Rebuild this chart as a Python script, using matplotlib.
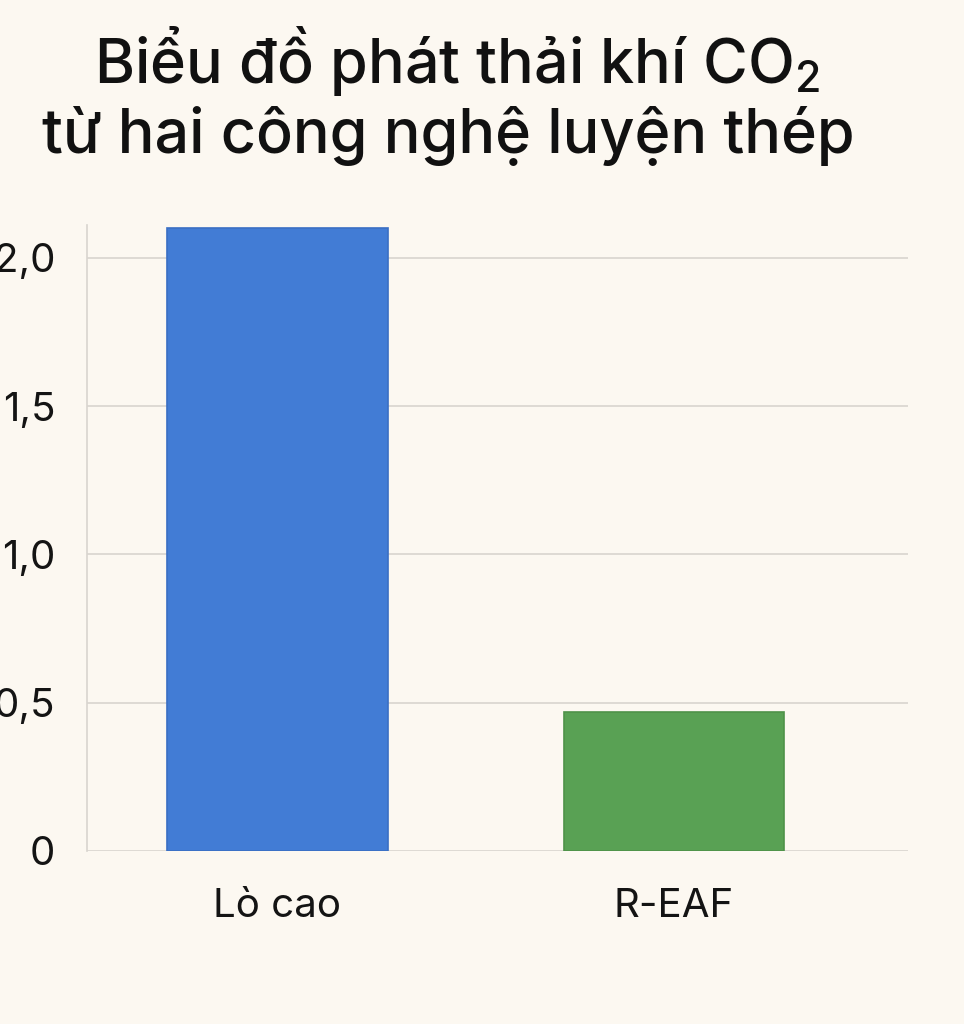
import matplotlib.pyplot as plt

categories = ["Lò cao", "R-EAF"]
emissions = [2.10, 0.47]
bar_colors = ["#427cd5", "#59a154"]
edge_colors = ["#3a6fc4", "#4f9249"]
y_ticks = [0, 0.5, 1.0, 1.5, 2.0]
y_tick_labels = ["0", "0,5", "1,0", "1,5", "2,0"]

bg = "#fcf8f1"
plt.rcParams['font.family'] = ['Inter', 'DejaVu Sans']
plt.rcParams['mathtext.fontset'] = 'custom'
plt.rcParams['mathtext.rm'] = 'Inter:medium'

fig = plt.figure(figsize=(9.64, 10.24), dpi=100, facecolor=bg)
ax = fig.add_axes([0.0903, 0.169, 0.8517, 0.611], facecolor=bg)

x = list(range(len(categories)))
ax.bar(x, emissions, width=0.555, color=bar_colors, edgecolor=edge_colors, linewidth=1.2, zorder=3)

ax.set_xlim(-0.48, 1.59)
ax.set_ylim(0, 2.11)
ax.set_yticks(y_ticks)
ax.set_yticklabels(y_tick_labels)
ax.set_xticks(x)
ax.set_xticklabels(categories)

ax.grid(axis='y', color='#d8d5cf', linewidth=1.2, zorder=0)
for s in ['top', 'right', 'bottom']:
    ax.spines[s].set_visible(False)
ax.spines['left'].set_color('#d8d5cf')
ax.spines['left'].set_linewidth(1.2)
ax.tick_params(axis='both', length=0, labelsize=29, colors='#141414')
ax.tick_params(axis='y', pad=23)
ax.tick_params(axis='x', pad=27)

fig.text(0.474, 0.919, r"Biểu đồ phát thải khí CO$_\mathrm{2}$", ha='center', va='baseline',
         fontsize=44, fontweight='medium', color='#111111')
fig.text(0.465, 0.851, "từ hai công nghệ luyện thép", ha='center', va='baseline',
         fontsize=44, fontweight='medium', color='#111111')

fig.savefig("out.png", dpi=100, facecolor=bg)
